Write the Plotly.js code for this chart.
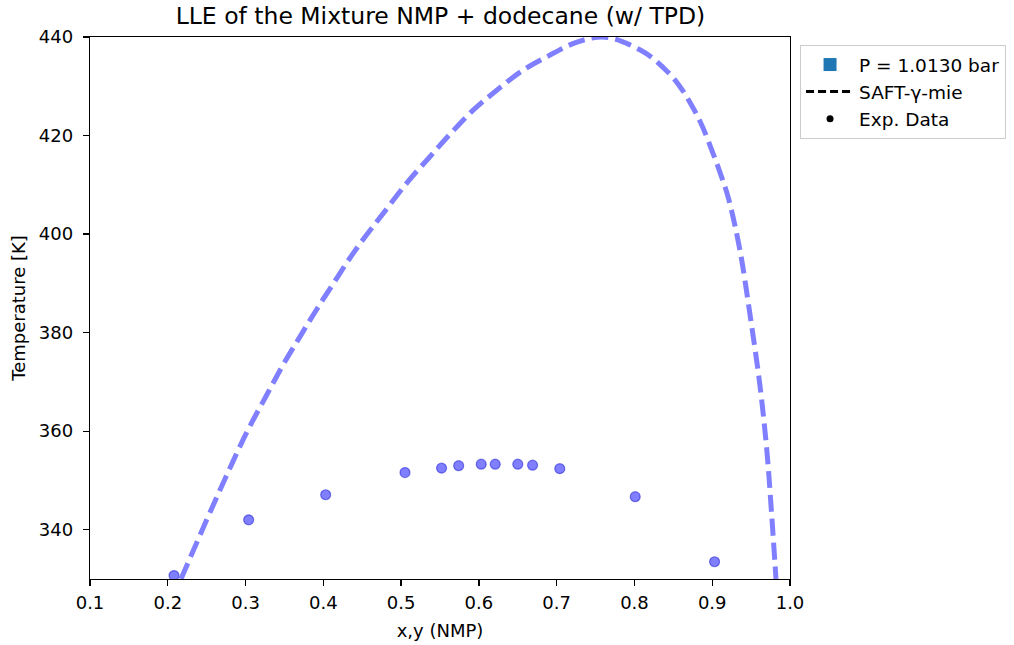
<!DOCTYPE html>
<html>
<head>
<meta charset="utf-8">
<script src="https://cdn.plot.ly/plotly-3.0.1.min.js"></script>
<style>html,body{margin:0;padding:0;background:#fff;}#chart{width:1014px;height:645px;}</style>
</head>
<body>
<div id="chart"></div>
<script>
// SAFT-gamma-mie LLE curve (x NMP, T in K)
const curveX = [0.217, 0.250, 0.275, 0.301, 0.327, 0.348, 0.370, 0.391, 0.413, 0.434, 0.453, 0.477, 0.509, 0.537, 0.563, 0.593, 0.623, 0.657, 0.691, 0.720, 0.740, 0.758, 0.775, 0.790, 0.807, 0.822, 0.837, 0.850, 0.863, 0.884, 0.901, 0.912, 0.921, 0.936, 0.949, 0.961, 0.970, 0.976, 0.982];
const curveT = [330.0, 342.0, 350.8, 359.6, 367.3, 373.4, 379.2, 384.6, 390.0, 395.1, 399.3, 404.2, 410.7, 415.7, 420.3, 425.2, 429.2, 433.3, 436.3, 438.6, 439.6, 440.0, 439.6, 438.7, 437.4, 435.9, 433.8, 431.7, 428.9, 423.0, 416.4, 411.6, 407.2, 396.4, 383.2, 369.7, 356.5, 344.0, 330.0];
// Experimental data
const expX = [0.208, 0.304, 0.403, 0.505, 0.552, 0.574, 0.603, 0.621, 0.650, 0.669, 0.704, 0.801, 0.903];
const expT = [330.7, 342.0, 347.1, 351.6, 352.5, 353.0, 353.3, 353.3, 353.3, 353.1, 352.4, 346.7, 333.5];
const legendNames = ["P = 1.0130 bar", "SAFT-\u03b3-mie", "Exp. Data"];

const traces = [
  {x: curveX, y: curveT, mode: 'lines', type: 'scatter', showlegend: false,
   line: {color: 'rgba(0,0,255,0.5)', width: 5, dash: '17px,7px', shape: 'spline', smoothing: 1}},
  {x: expX, y: expT, mode: 'markers', type: 'scatter', showlegend: false,
   marker: {color: 'rgba(0,0,255,0.5)', size: 10, line: {color: 'rgba(0,0,200,0.45)', width: 1.2}}},
  {x: [null], y: [null], mode: 'markers', type: 'scatter', name: legendNames[0], legendgroup: 'a',
   marker: {symbol: 'square', color: '#1f77b4', size: 13}},
  {x: [null], y: [null], mode: 'lines', type: 'scatter', name: legendNames[1], legendgroup: 'b',
   line: {color: 'black', width: 3, dash: '8px,4px'}},
  {x: [null], y: [null], mode: 'markers', type: 'scatter', name: legendNames[2], legendgroup: 'c',
   marker: {color: 'black', size: 7}}
];

const axisCommon = {
  showgrid: false, zeroline: false, showline: true, mirror: true,
  linecolor: 'black', linewidth: 1.3, ticks: 'outside', ticklen: 6, tickwidth: 1.3, tickcolor: 'black',
  tickfont: {family: 'DejaVu Sans', size: 18, color: 'black'}
};

const layout = {
  width: 1014, height: 645,
  margin: {l: 90, r: 224, t: 37, b: 66},
  paper_bgcolor: 'white', plot_bgcolor: 'white',
  font: {family: 'DejaVu Sans', color: 'black'},
  title: {text: 'LLE of the Mixture NMP + dodecane (w/ TPD)', font: {family: 'DejaVu Sans', size: 23.5, color: 'black'},
          x: 0.4344, xanchor: 'center', y: 0.975, yanchor: 'middle'},
  xaxis: Object.assign({}, axisCommon, {range: [0.1, 1.0], tickvals: [0.1,0.2,0.3,0.4,0.5,0.6,0.7,0.8,0.9,1.0],
          ticktext: ['0.1','0.2','0.3','0.4','0.5','0.6','0.7','0.8','0.9','1.0'], ticklabelstandoff: 1,
          title: {text: 'x,y (NMP)', font: {family: 'DejaVu Sans', size: 18, color: 'black'}, standoff: 12}}),
  yaxis: Object.assign({}, axisCommon, {range: [330, 440], tickvals: [340,360,380,400,420,440], ticklabelstandoff: 6,
          title: {text: 'Temperature [K]', font: {family: 'DejaVu Sans', size: 18, color: 'black'}, standoff: 8}}),
  legend: {xref: 'container', yref: 'container', x: 0.7890, y: 0.9302, xanchor: 'left', yanchor: 'top',
           bgcolor: 'white', traceorder: 'grouped',
           bordercolor: '#cccccc', borderwidth: 1, font: {family: 'DejaVu Sans', size: 18.5, color: 'black'},
           itemwidth: 48, tracegroupgap: 0}
};

Plotly.newPlot('chart', traces, layout, {displayModeBar: false, staticPlot: true});
</script>
</body>
</html>
